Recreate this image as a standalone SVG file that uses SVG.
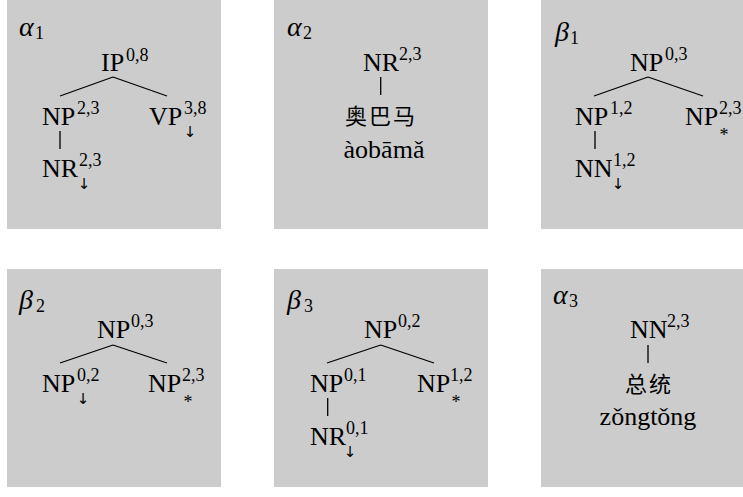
<svg xmlns="http://www.w3.org/2000/svg" width="743" height="497" viewBox="0 0 743 497">
<style>
.box{fill:#cccccc}
text{font-family:"Liberation Serif",serif;fill:#000}
.m{font-size:26px}
.s{font-size:18px}
.g{font-size:28px;font-style:italic}
.ar{font-family:"DejaVu Sans",sans-serif;font-size:15px}
.st{font-size:18px}
.cjk{font-family:"Noto Sans CJK SC",sans-serif;font-size:22px;letter-spacing:2px}
.py{font-size:26px}
.edge{stroke:#000;stroke-width:1.3;fill:none}
</style>
<g id="panels">
<rect class="box" x="7" y="0" width="214" height="229"/>
<rect class="box" x="274" y="0" width="214" height="229"/>
<rect class="box" x="541" y="0" width="202" height="229"/>
<rect class="box" x="7" y="269" width="214" height="218"/>
<rect class="box" x="274" y="269" width="214" height="218"/>
<rect class="box" x="541" y="269" width="202" height="218"/>
</g>
<g id="connectors">
<path class="edge" d="M113,77 L60,96 M113,77 L167,96 M60,131 V149"/>
<path class="edge" d="M380.7,77 V95"/>
<path class="edge" d="M648,77 L594,96 M648,77 L703,96 M595,131 V149"/>
<path class="edge" d="M113,345 L60,363 M113,345 L167,363"/>
<path class="edge" d="M380.7,345 L327,363 M380.7,345 L434,363 M327.7,398 V416"/>
<path class="edge" d="M648,345 V363"/>
</g>
<g id="alpha1">
<g id="a1-label"><text class="g" x="19" y="36">α</text><text class="s" x="35" y="39">1</text></g>
<g id="a1-IP"><text class="m" x="101" y="71">IP</text><text class="s" x="126" y="61">0,8</text></g>
<g id="a1-NP"><text class="m" x="42" y="125">NP</text><text class="s" x="77" y="114">2,3</text></g>
<g id="a1-VP"><text class="m" x="149" y="125">VP</text><text class="s" x="184" y="114">3,8</text><text class="ar" x="190" y="137" text-anchor="middle">↓</text></g>
<g id="a1-NR"><text class="m" x="42" y="177">NR</text><text class="s" x="79" y="166">2,3</text><text class="ar" x="84" y="189" text-anchor="middle">↓</text></g>
</g>
<g id="alpha2">
<g id="a2-label"><text class="g" x="287" y="36">α</text><text class="s" x="303" y="39">2</text></g>
<g id="a2-NR"><text class="m" x="363" y="71">NR</text><text class="s" x="399" y="60">2,3</text></g>
<g id="a2-word"><text class="cjk" x="381" y="124" text-anchor="middle">奥巴马</text><text class="py" x="384" y="158" text-anchor="middle">àobāmǎ</text></g>
</g>
<g id="beta1">
<g id="b1-label"><text class="g" x="555" y="41">β</text><text class="s" x="570" y="44">1</text></g>
<g id="b1-NP"><text class="m" x="630" y="71">NP</text><text class="s" x="665" y="60">0,3</text></g>
<g id="b1-NP12"><text class="m" x="575" y="125">NP</text><text class="s" x="610" y="114">1,2</text></g>
<g id="b1-NP23"><text class="m" x="685" y="125">NP</text><text class="s" x="719" y="114">2,3</text><text class="st" x="724" y="141" text-anchor="middle">*</text></g>
<g id="b1-NN"><text class="m" x="575" y="177">NN</text><text class="s" x="613" y="166">1,2</text><text class="ar" x="618" y="189" text-anchor="middle">↓</text></g>
</g>
<g id="beta2">
<g id="b2-label"><text class="g" x="19" y="309">β</text><text class="s" x="36" y="312">2</text></g>
<g id="b2-NP"><text class="m" x="97" y="338">NP</text><text class="s" x="131" y="327">0,3</text></g>
<g id="b2-NP02"><text class="m" x="42" y="392">NP</text><text class="s" x="77" y="381">0,2</text><text class="ar" x="83" y="404" text-anchor="middle">↓</text></g>
<g id="b2-NP23"><text class="m" x="148" y="392">NP</text><text class="s" x="182" y="381">2,3</text><text class="st" x="188" y="408" text-anchor="middle">*</text></g>
</g>
<g id="beta3">
<g id="b3-label"><text class="g" x="287" y="309">β</text><text class="s" x="304" y="312">3</text></g>
<g id="b3-NP"><text class="m" x="364" y="338">NP</text><text class="s" x="398" y="327">0,2</text></g>
<g id="b3-NP01"><text class="m" x="310" y="392">NP</text><text class="s" x="344" y="381">0,1</text></g>
<g id="b3-NP12"><text class="m" x="417" y="392">NP</text><text class="s" x="450" y="381">1,2</text><text class="st" x="456" y="408" text-anchor="middle">*</text></g>
<g id="b3-NR"><text class="m" x="310" y="445">NR</text><text class="s" x="346" y="434">0,1</text><text class="ar" x="350" y="457" text-anchor="middle">↓</text></g>
</g>
<g id="alpha3">
<g id="a3-label"><text class="g" x="553" y="304">α</text><text class="s" x="569" y="307">3</text></g>
<g id="a3-NN"><text class="m" x="630" y="338">NN</text><text class="s" x="667" y="327">2,3</text></g>
<g id="a3-word"><text class="cjk" x="649" y="392" text-anchor="middle">总统</text><text class="py" x="648" y="425" text-anchor="middle">zǒngtǒng</text></g>
</g>
</svg>
